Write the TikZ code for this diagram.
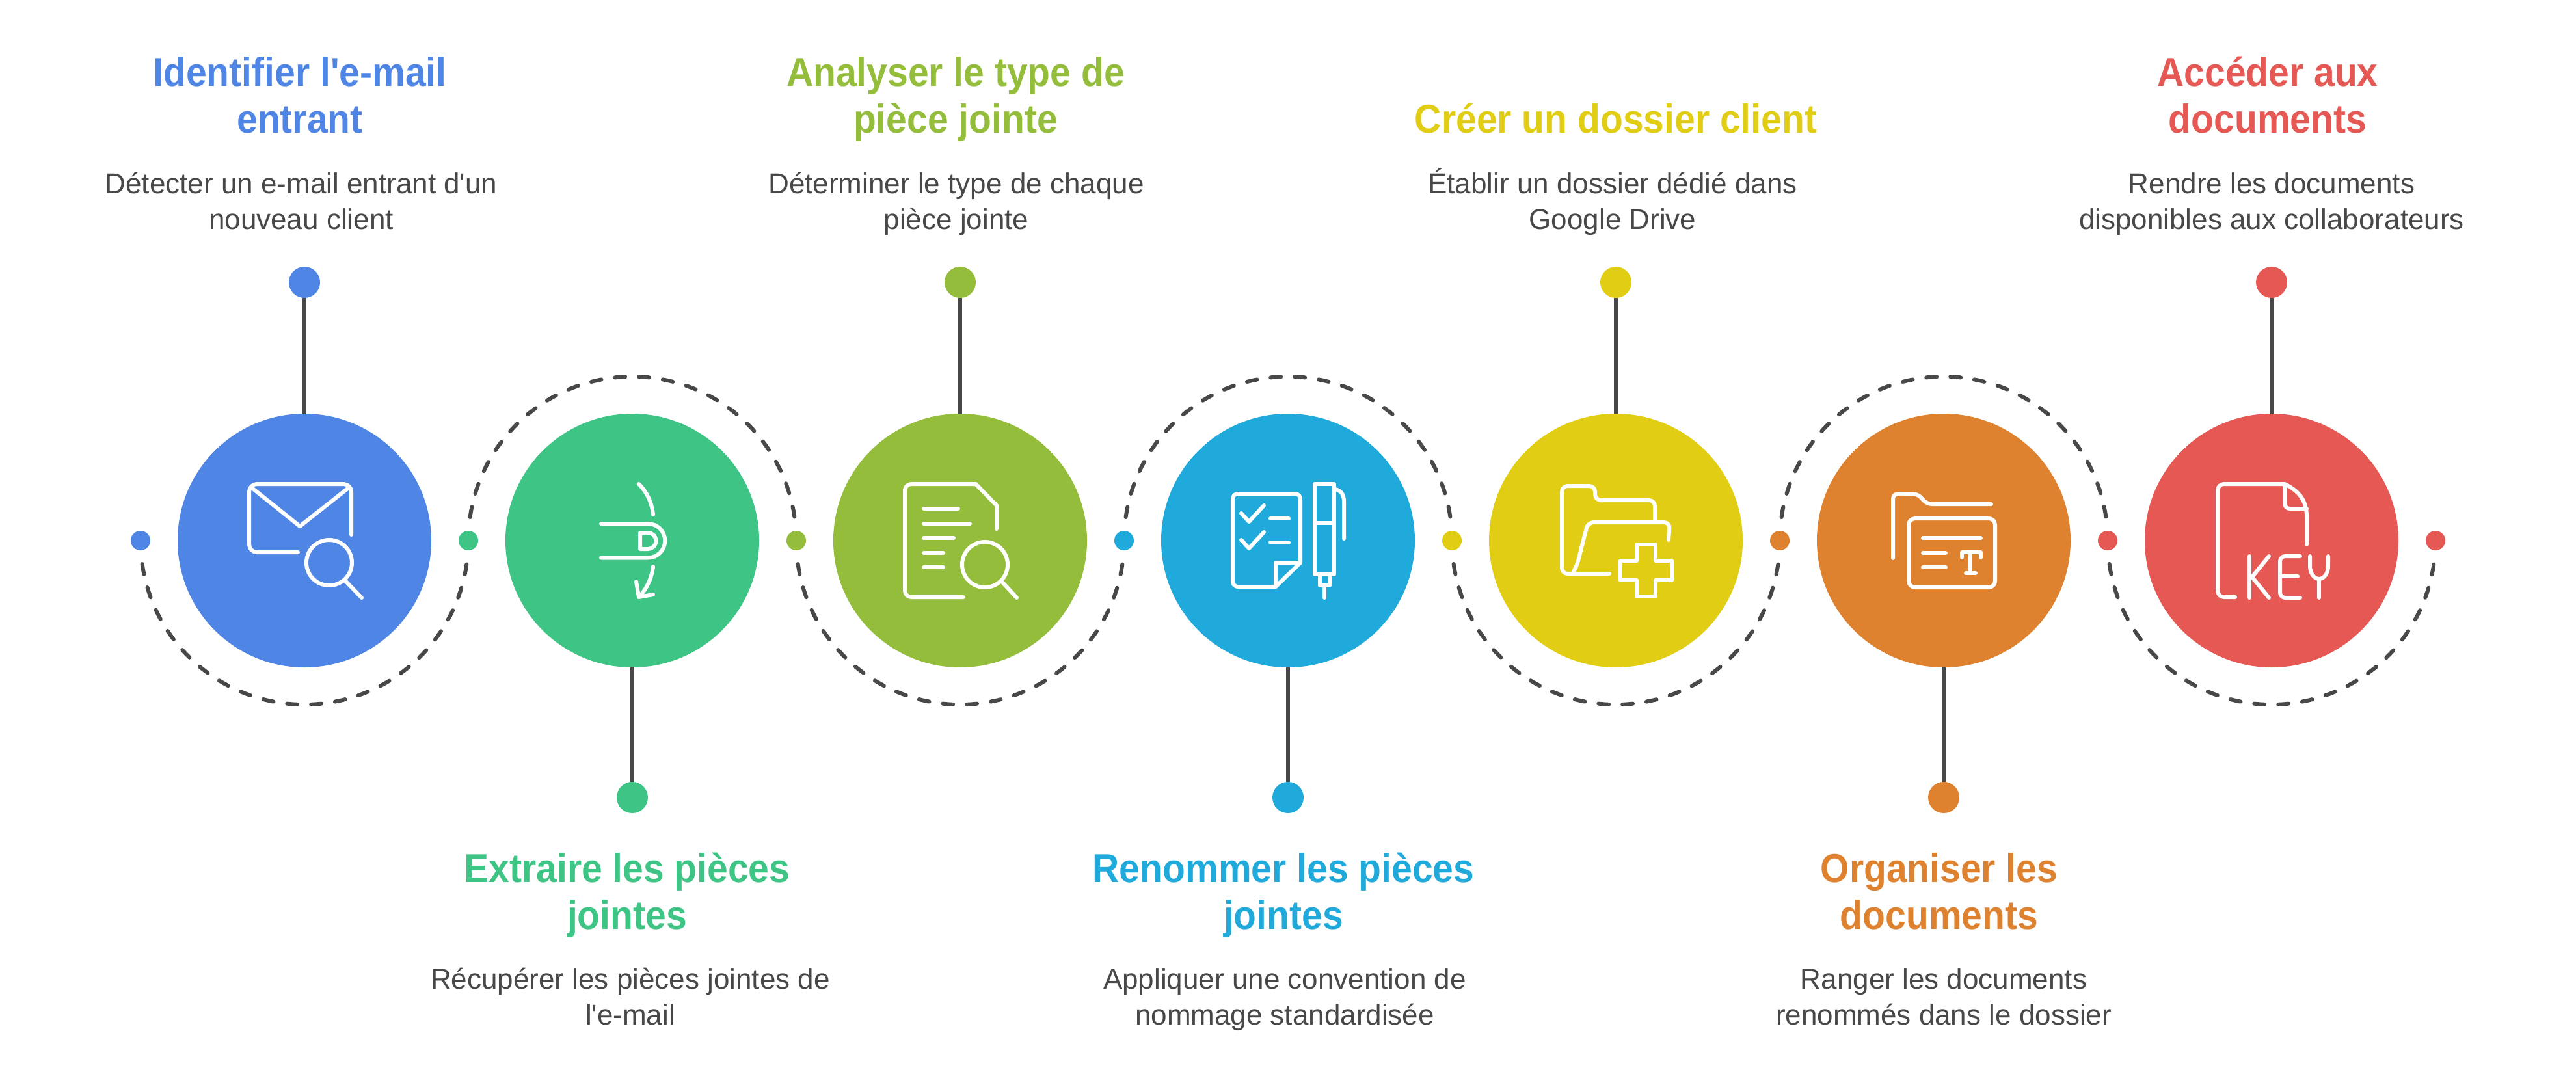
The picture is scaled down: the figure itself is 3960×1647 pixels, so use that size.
\documentclass[tikz,border=0pt]{standalone}
\usepackage{fontspec}
\setmainfont{Liberation Sans}
\newfontfamily\headfont{Liberation Sans}[FakeStretch=0.92]
\newfontfamily\descfont{Liberation Sans}
\usetikzlibrary{calc}
\definecolor{cblue}{HTML}{4F86E5}
\definecolor{cgreen}{HTML}{3EC586}
\definecolor{colive}{HTML}{93BD3A}
\definecolor{ccyan}{HTML}{1FAADB}
\definecolor{cyellow}{HTML}{E0CD14}
\definecolor{corange}{HTML}{DE8230}
\definecolor{cred}{HTML}{E65853}
\definecolor{cdark}{HTML}{484848}
\tikzset{
  x=1pt,y=-1pt,
  bigdisc/.style={circle,inner sep=0pt,minimum size=390pt,fill=#1},
  smalldot/.style={circle,inner sep=0pt,minimum size=30pt,fill=#1},
  enddot/.style={circle,inner sep=0pt,minimum size=48pt,fill=#1},
  stem/.style={draw=cdark,line width=6pt},
  dashline/.style={draw=cdark,line width=6pt,line cap=round,dash pattern=on 16pt off 21pt},
  ico/.style={draw=white,line width=6pt,line cap=round,line join=round},
  head/.style={anchor=base,align=center,text=#1,inner sep=0pt,font=\headfont\bfseries\fontsize{62}{72}\selectfont},
  desc/.style={anchor=base,align=center,text=cdark,inner sep=0pt,font=\descfont\fontsize{44}{55}\selectfont},
}
\begin{document}
\begin{tikzpicture}
\useasboundingbox (0,0) rectangle (3960,1647);
\fill[white] (0,0) rectangle (3960,1647);
% discs
\node[bigdisc=cblue] (c1) at (468,831) {};
\node[bigdisc=cgreen] (c2) at (972,831) {};
\node[bigdisc=colive] (c3) at (1476,831) {};
\node[bigdisc=ccyan] (c4) at (1980,831) {};
\node[bigdisc=cyellow] (c5) at (2484,831) {};
\node[bigdisc=corange] (c6) at (2988,831) {};
\node[bigdisc=cred] (c7) at (3492,831) {};
% small dots
\node[smalldot=cblue] (s1) at (216,831) {};
\node[smalldot=cgreen] (s2) at (720,831) {};
\node[smalldot=colive] (s3) at (1224,831) {};
\node[smalldot=ccyan] (s4) at (1728,831) {};
\node[smalldot=cyellow] (s5) at (2232,831) {};
\node[smalldot=corange] (s6) at (2736,831) {};
\node[smalldot=cred] (s7) at (3240,831) {};
\node[smalldot=cred] (s8) at (3744,831) {};
% end dots
\node[enddot=cblue] (e1) at (468,434) {};
\node[enddot=cgreen] (e2) at (972,1226) {};
\node[enddot=colive] (e3) at (1476,434) {};
\node[enddot=ccyan] (e4) at (1980,1226) {};
\node[enddot=cyellow] (e5) at (2484,434) {};
\node[enddot=corange] (e6) at (2988,1226) {};
\node[enddot=cred] (e7) at (3492,434) {};
% stems
\foreach \i in {1,...,7} \draw[stem] (e\i) -- (c\i);
% dashed arcs
\foreach \i in {1,3,5,7}
  \draw[dashline] ($(c\i)+(188.2:252pt)$) arc[start angle=188.2,end angle=355.2,radius=252pt];
\foreach \i in {2,4,6}
  \draw[dashline] ($(c\i)+(171.8:252pt)$) arc[start angle=171.8,end angle=4.8,radius=252pt];
% icon 1
\draw[ico,rounded corners=12pt] (540,822) -- (540,744) -- (383,744) -- (383,849) -- (458,849);
\draw[ico] (386,749) -- (461,809) -- (537,749);
\draw[ico] (506,865) circle[radius=35pt];
\draw[ico] (530,892) -- (556,919);
% icon 2
\draw[ico] (982,744) .. controls (994,756) and (1002,772) .. (1004,791);
\draw[ico] (924,805) -- (996,805) arc[start angle=90,end angle=-90,radius=26.25pt] -- (924,857.5);
\draw[ico] (984,819) -- (996,819) arc[start angle=90,end angle=-90,radius=12.5pt] -- (984,844) -- cycle;
\draw[ico] (1004,871) .. controls (1002,888) and (994,906) .. (982,918);
\draw[ico] (978,894) -- (982,918) -- (1004,914);
% icon 3
\draw[ico,rounded corners=10pt] (1481,918) -- (1391,918) -- (1391,744) -- (1500,744);
\draw[ico] (1500,744) -- (1532,777) -- (1532,813);
\draw[ico] (1420,782) -- (1473,782);
\draw[ico] (1420,805) -- (1491,805);
\draw[ico] (1420,827) -- (1466,827);
\draw[ico] (1420,850) -- (1450,850);
\draw[ico] (1420,872) -- (1450,872);
\draw[ico] (1514,868) circle[radius=35pt];
\draw[ico] (1540,894) -- (1563,919);
% icon 4
\draw[ico,rounded corners=8pt] (1961,902) -- (1895,902) -- (1895,759) -- (1999,759) -- (1999,865);
\draw[ico] (1999,865) -- (1961,902) -- (1961,865) -- cycle;
\draw[ico] (1908,789) -- (1920,802) -- (1943,777);
\draw[ico] (1908,830) -- (1920,843) -- (1943,818);
\draw[ico] (1953,797) -- (1981,797);
\draw[ico] (1953,834) -- (1981,834);
\draw[ico] (2021,744) rectangle (2051,883);
\draw[ico] (2021,804) -- (2051,804);
\draw[ico] (2029,883) rectangle (2044,900);
\draw[ico] (2036,900) -- (2036,919);
\draw[ico] (2053,752) .. controls (2062,755) and (2066,760) .. (2066,772) -- (2066,828);
% icon 5
\draw[ico,rounded corners=9pt] (2474,882) -- (2401,882) -- (2401,747) -- (2452,747) -- (2452,769) -- (2544,769) -- (2544,802);
\draw[ico,rounded corners=9pt] (2417,882) -- (2424,870) -- (2441,803) -- (2567,803) -- (2565,830);
\draw[ico] (2516,837) -- (2545,837) -- (2545,862) -- (2570,862) -- (2570,892) -- (2545,892) -- (2545,917) -- (2516,917) -- (2516,892) -- (2491,892) -- (2491,862) -- (2516,862) -- cycle;
% icon 6
\draw[ico,rounded corners=8pt] (2910,858) -- (2910,759) -- (2948,759) -- (2962,775) -- (3061,775);
\draw[ico,rounded corners=10pt] (2934,797) rectangle (3067,903);
\draw[ico] (2956,827) -- (3045,827);
\draw[ico] (2956,850) -- (2991,850);
\draw[ico] (2956,872) -- (2991,872);
\draw[ico] (3016,857) -- (3016,849) -- (3045,849) -- (3045,857);
\draw[ico] (3029,849) -- (3029,881);
\draw[ico] (3022,881) -- (3037,881);
% icon 7
\draw[ico,rounded corners=10pt] (3436,918) -- (3409,918) -- (3409,744) -- (3512,744);
\draw[ico] (3512,744) .. controls (3535,755) and (3546,770) .. (3546,795) -- (3546,837);
\draw[ico,rounded corners=8pt] (3512,744) -- (3512,782) -- (3546,782);
\draw[ico] (3458,855) -- (3458,919);
\draw[ico] (3488,855) -- (3462,887) -- (3488,919);
\draw[ico,rounded corners=8pt] (3536,855) -- (3505,855) -- (3505,919) -- (3536,919);
\draw[ico] (3505,886) -- (3532,886);
\draw[ico] (3551,855) -- (3551,870) .. controls (3551,882) and (3558,890) .. (3565,890) .. controls (3572,890) and (3579,882) .. (3579,870) -- (3579,855);
\draw[ico] (3565,890) -- (3565,919);
% titles
\node[head=cblue] (t1) at (461,204) {Identifier l'e-mail\\entrant};
\node[head=cgreen] (t2) at (964,1428) {Extraire les pièces\\jointes};
\node[head=colive] (t3) at (1469,204) {Analyser le type de\\pièce jointe};
\node[head=ccyan] (t4) at (1973,1428) {Renommer les pièces\\jointes};
\node[head=cyellow] (t5) at (2484,204) {Créer un dossier client};
\node[head=corange] (t6) at (2981,1428) {Organiser les\\documents};
\node[head=cred] (t7) at (3486,204) {Accéder aux\\documents};
% descriptions
\node[desc] (d1) at (463,352) {Détecter un e-mail entrant d'un\\nouveau client};
\node[desc] (d2) at (969,1575) {Récupérer les pièces jointes de\\l'e-mail};
\node[desc] (d3) at (1470,352) {Déterminer le type de chaque\\pièce jointe};
\node[desc] (d4) at (1975,1575) {Appliquer une convention de\\nommage standardisée};
\node[desc] (d5) at (2479,352) {Établir un dossier dédié dans\\Google Drive};
\node[desc] (d6) at (2988,1575) {Ranger les documents\\renommés dans le dossier};
\node[desc] (d7) at (3492,352) {Rendre les documents\\disponibles aux collaborateurs};
\end{tikzpicture}
\end{document}
